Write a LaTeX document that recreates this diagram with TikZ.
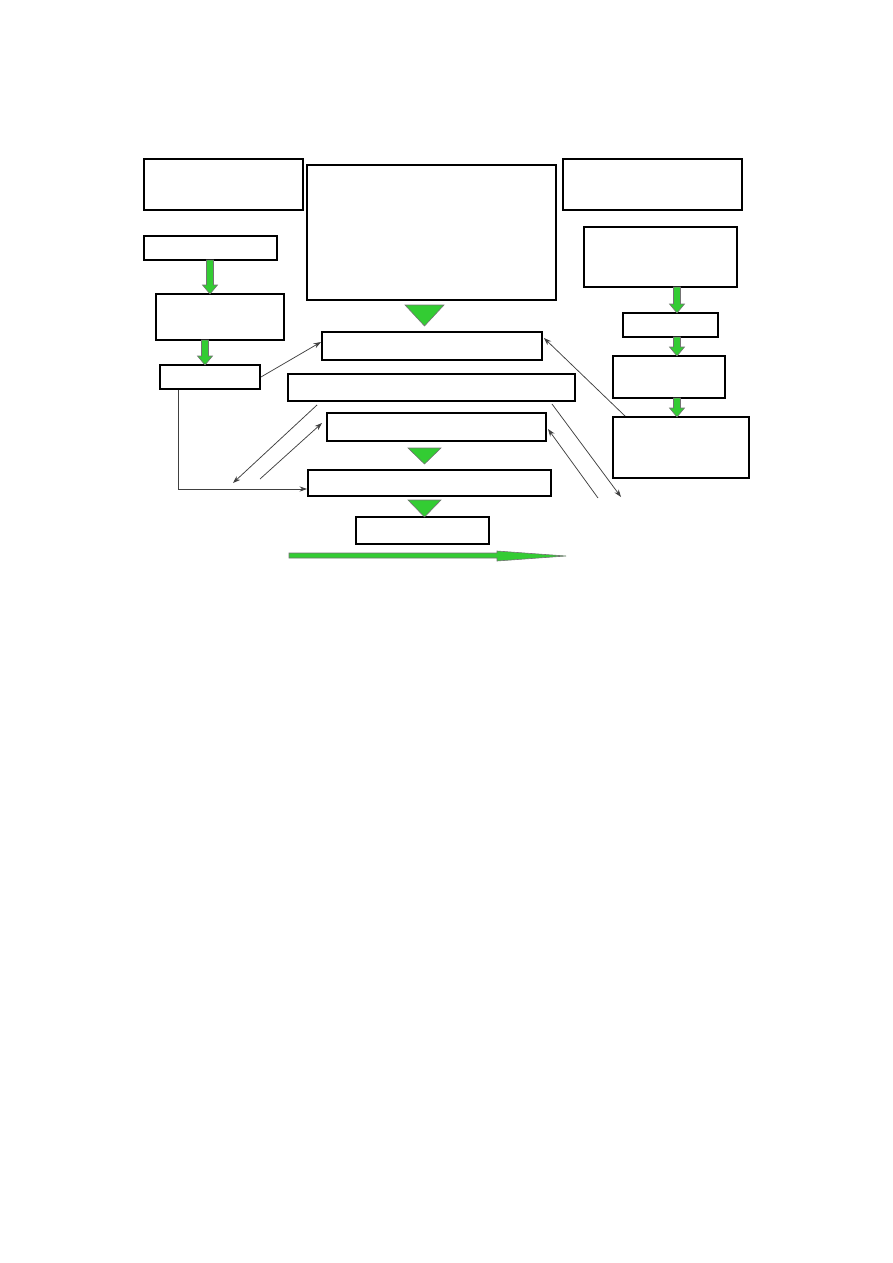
\documentclass[tikz,border=0pt]{standalone}
\usetikzlibrary{arrows.meta,calc}
\newdimen\pxu \pxu=0.66667pt
\definecolor{grn}{RGB}{51,204,51}
\newcommand\bx[6][]{\node[box,#1,minimum width={(#5-#3)*\pxu},minimum height={(#6-#4)*\pxu}] (#2) at ({(#3+#5)/2},{(#4+#6)/2}) {};}
\newcommand\garrow[3]{\filldraw[grn,draw=black!55,line width=0.4pt] ({#1-3.5},#2) -- ({#1+3.5},#2) -- ({#1+3.5},{#3-9}) -- ({#1+7.5},{#3-9}) -- (#1,#3) -- ({#1-7.5},{#3-9}) -- ({#1-3.5},{#3-9}) -- cycle;}
\newcommand\gtri[4]{\filldraw[grn,draw=black!55,line width=0.4pt] (#1,#3) -- (#2,#3) -- ({(#1+#2)/2},#4) -- cycle;}
\begin{document}
\begin{tikzpicture}[x=\pxu,y=-\pxu,
  box/.style={draw,line width=1.3pt,inner sep=0pt,rectangle,fill=white},
  link/.style={line width=0.5pt,draw=black!75,-{Stealth[length=5pt,width=3.5pt]}}]
\useasboundingbox (0,0) rectangle (893,1263);
% left column
\bx{L1}{144}{159}{303}{210}
\bx{L2}{144}{236}{277}{260}
\bx{L3}{156}{294}{284}{340}
\bx{L4}{160}{365}{260}{389}
% center column
\bx{C1}{307}{165}{556}{300}
\bx{C2}{322}{332}{542}{360}
\bx{C3}{288}{374}{575}{401}
\bx{C4}{327}{413}{546}{441}
\bx{C5}{308}{470}{551}{496}
\bx[line width=1pt]{C6}{356}{517}{489}{544}
% right column
\bx{R1}{563}{159}{742}{210}
\bx{R2}{584}{227}{737}{287}
\bx{R3}{623}{313}{718}{337}
\bx{R4}{613}{356}{725}{398}
\bx{R5}{613}{417}{749}{478}
% green block arrows
\garrow{210}{260}{294}
\garrow{205}{340}{365}
\garrow{677}{287}{313}
\garrow{677}{337}{356}
\garrow{677}{398}{417}
\gtri{405}{444}{305}{326}
\gtri{408}{441}{448}{464}
\gtri{408}{441}{500}{517}
% big horizontal arrow
\filldraw[grn,draw=black!55,line width=0.4pt] (289,553) -- (497,553) -- (497,551) -- (566,556) -- (497,561) -- (497,558) -- (289,558) -- cycle;
% connectors
\coordinate (a1) at (233,483);
\coordinate (a2) at (260,479);
\coordinate (a3) at (621,497);
\coordinate (a4) at (598,498);
\draw[link] (L4.east) -- ($(C2.west)+(0,-4)$);
\draw[link] ($(L4.south west)+(19,0)$) |- ($(C5.west)+(0,6)$);
\draw[link] ($(C3.south west)+(30,3)$) -- (a1);
\draw[link] (a2) -- ($(C4.west)+(-4,-4)$);
\draw[link] ($(R5.north west)+(13,0)$) -- ($(C2.east)+(1,-8)$);
\draw[link] ($(C3.south east)+(-24,2)$) -- (a3);
\draw[link] (a4) -- ($(C4.east)+(1,2)$);
\end{tikzpicture}
\end{document}
